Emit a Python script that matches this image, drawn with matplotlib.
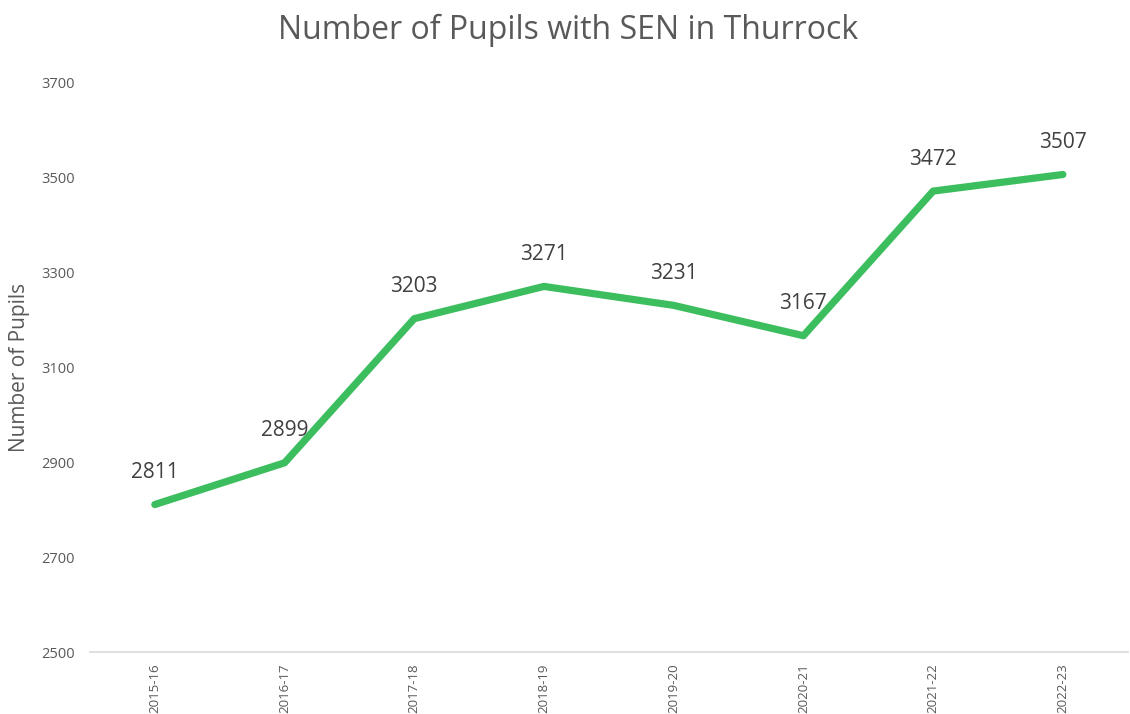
import matplotlib
matplotlib.use("Agg")
import matplotlib.pyplot as plt

years = ["2015-16", "2016-17", "2017-18", "2018-19", "2019-20", "2020-21", "2021-22", "2022-23"]
pupils = [2811, 2899, 3203, 3271, 3231, 3167, 3472, 3507]
y_ticks = [2500, 2700, 2900, 3100, 3300, 3500, 3700]

plt.rcParams["font.family"] = ["Open Sans", "DejaVu Sans"]

fig = plt.figure(figsize=(11.3, 7.14), dpi=100)
ax = fig.add_axes([0.0796, 0.0868, 0.9184, 0.797])

x = list(range(len(years)))
ax.plot(x, pupils, color="#3CBE5F", linewidth=5.2, solid_capstyle="round",
        solid_joinstyle="round")
for xi, v in zip(x, pupils):
    ax.annotate(str(v), (xi, v), xytext=(0, 23), textcoords="offset points",
                ha="center", va="center", fontsize=15, color="#404040")

ax.set_xlim(-0.5, len(years) - 0.5)
ax.set_ylim(2500, 3700)
ax.set_yticks(y_ticks)
ax.set_xticks(x)
ax.set_xticklabels(years, rotation=90, fontsize=9.5, color="#595959")
ax.tick_params(axis="y", labelsize=10.5, labelcolor="#595959", length=0, pad=11)
ax.tick_params(axis="x", length=0, pad=8)

for s in ["top", "right", "left"]:
    ax.spines[s].set_visible(False)
ax.spines["bottom"].set_color("#D9D9D9")
ax.spines["bottom"].set_linewidth(1.2)

ax.set_ylabel("Number of Pupils", fontsize=15, color="#595959")
ax.yaxis.set_label_coords(-0.058, 0.5)
fig.text(0.503, 0.958, "Number of Pupils with SEN in Thurrock", ha="center",
         va="center", fontsize=23, color="#595959")

fig.savefig("out.png", dpi=100)
